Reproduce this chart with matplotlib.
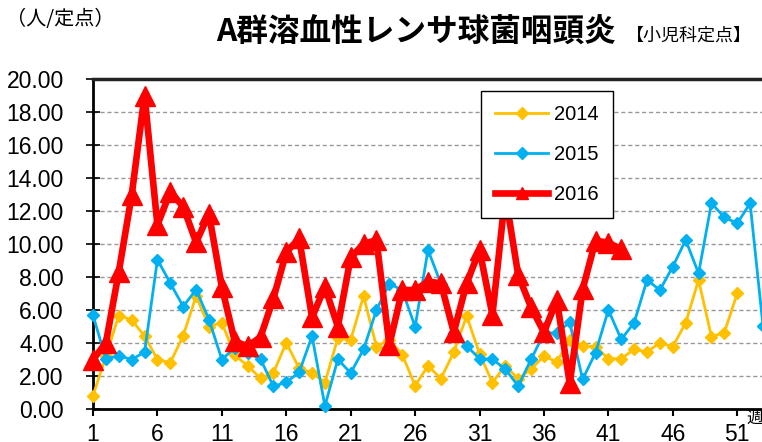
import matplotlib
matplotlib.use("Agg")
import matplotlib.pyplot as plt

plt.rcParams['font.family'] = ['Liberation Sans', 'Noto Sans CJK JP']

weeks_2014 = list(range(1, 52))
vals_2014 = [0.8, 3.2, 5.66, 5.4, 4.42, 3.0, 2.8, 4.45, 6.84, 5.0,
             5.24, 3.25, 2.63, 1.86, 2.18, 4.02, 2.46, 2.2, 1.6, 4.3,
             4.2, 6.84, 3.78, 4.2, 3.3, 1.42, 2.62, 1.84, 3.44, 5.64,
             3.35, 1.6, 2.63, 1.82, 2.42, 3.21, 2.85, 4.2, 3.82, 3.78,
             3.05, 3.05, 3.62, 3.45, 4.02, 3.78, 5.23, 7.82, 4.38, 4.63,
             7.01]

weeks_2015 = list(range(1, 54))
vals_2015 = [5.68, 3.03, 3.22, 3.0, 3.44, 9.05, 7.63, 6.21, 7.24, 5.42,
             3.0, 3.7, 3.4, 3.03, 1.37, 1.62, 2.22, 4.42, 0.18, 3.01,
             2.18, 3.62, 6.0, 7.6, 7.2, 4.99, 9.64, 7.6, 4.6, 3.82,
             3.05, 3.02, 2.42, 1.39, 3.01, 4.59, 4.63, 5.25, 1.8, 3.41,
             6.0, 4.22, 5.23, 7.82, 7.21, 8.63, 10.24, 8.22, 12.47, 11.62,
             11.25, 12.47, 5.03]

weeks_2016 = list(range(1, 43))
vals_2016 = [3.0, 4.0, 8.3, 12.95, 19.0, 11.15, 13.17, 12.26, 10.1, 11.82,
             7.39, 4.1, 3.8, 4.36, 6.7, 9.5, 10.34, 5.55, 7.41, 4.99,
             9.19, 10.0, 10.24, 3.88, 7.21, 7.21, 7.72, 7.62, 4.65, 7.62,
             9.64, 5.7, 13.0, 8.12, 6.16, 4.65, 6.6, 1.55, 7.25, 10.2,
             10.08, 9.68]

xtick_vals = list(range(1, 52, 5))
ytick_vals = [0, 2, 4, 6, 8, 10, 12, 14, 16, 18, 20]
ytick_labels = ["%.2f" % v for v in ytick_vals]

W, H = 762, 442
fig = plt.figure(figsize=(W / 100, H / 100), dpi=100)
ax = fig.add_axes([93 / W, 33 / H, 670 / W, 330 / H])

ax.plot(weeks_2014, vals_2014, color='#FFC000', lw=2.0, marker='D', ms=6,
        label='2014', clip_on=False, zorder=3)
ax.plot(weeks_2015, vals_2015, color='#00B0F0', lw=2.0, marker='D', ms=6,
        label='2015', clip_on=False, zorder=4)
ax.plot(weeks_2016, vals_2016, color='#FF0000', lw=4.8, marker='^', ms=14,
        label='2016', clip_on=False, zorder=5)

ax.set_xlim(1, 53)
ax.set_ylim(0, 20)
ax.set_xticks(xtick_vals)
ax.set_xticklabels([str(v) for v in xtick_vals])
ax.set_yticks(ytick_vals)
ax.set_yticklabels(ytick_labels)

ax.tick_params(axis='y', direction='inout', length=10, width=1.2, pad=16.0,
               labelsize=16.5)
ax.tick_params(axis='x', direction='out', length=5, width=1.5, pad=4.8,
               labelsize=16.5)

for g in ytick_vals[1:-1]:
    ax.axhline(g, color='#999999', lw=1.0, ls=(0, (3, 2)), zorder=1)

for s in ['left', 'bottom', 'right']:
    ax.spines[s].set_linewidth(2.0)
ax.spines['top'].set_linewidth(2.5)
ax.spines['top'].set_color('#222222')

leg = ax.legend(loc='upper left', bbox_to_anchor=(0.579, 0.964),
                fontsize=14.5, frameon=True, fancybox=False,
                edgecolor='black', framealpha=1, borderpad=0.7,
                labelspacing=1.05, handlelength=2.65, handletextpad=0.3,
                borderaxespad=0)
leg.get_frame().set_linewidth(1.0)
leg.set_zorder(10)
handles = leg.legend_handles
handles[2].set_markersize(9)

fig.text(416 / W, 1 - 33 / H, 'A群溶血性レンサ球菌咽頭炎', ha='center',
         va='center', fontsize=22.8, fontweight='bold',
         family=['Noto Sans CJK JP'])
fig.text(6 / W, 1 - 20 / H, '（人/定点）', ha='left', va='center',
         fontsize=14.5, family=['Noto Sans CJK JP'])
fig.text(626 / W, 1 - 36 / H, '【小児科定点】', ha='left', va='center',
         fontsize=13, family=['Noto Sans CJK JP'])
fig.text(755 / W, 1 - 418 / H, '週', ha='center', va='center',
         fontsize=12, family=['Noto Sans CJK JP'])

fig.savefig('out.png', dpi=100)
